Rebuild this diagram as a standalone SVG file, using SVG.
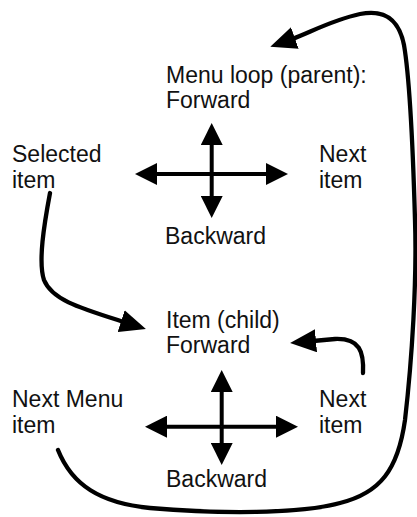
<svg xmlns="http://www.w3.org/2000/svg" width="417" height="517" viewBox="0 0 417 517">
  <style>
    .lbl { font-family: "Liberation Sans", Arial, Helvetica, sans-serif; font-size: 23px; fill: #111; }
    .ln { fill: none; stroke: #000; stroke-width: 4; }
    .cross { marker-end: url(#ah); }
    .curve { stroke-width: 4.3; stroke-linecap: round; marker-end: url(#ahc); }
  </style>
  <defs>
    <marker id="ah" viewBox="0 0 22 22" refX="3" refY="11" markerWidth="22" markerHeight="22" markerUnits="userSpaceOnUse" orient="auto">
      <path d="M0,0 L22,11 L0,22 Z" fill="#000"/>
    </marker>
    <marker id="ahc" viewBox="0 0 26 23" refX="3" refY="11.5" markerWidth="26" markerHeight="23" markerUnits="userSpaceOnUse" orient="auto">
      <path d="M0,0 L26,11.5 L0,23 Z" fill="#000"/>
    </marker>
  </defs>
  <rect width="417" height="517" fill="#fff"/>

  <g id="connectors">
    <!-- top cross -->
    <line class="ln cross" x1="211.7" y1="174" x2="211.7" y2="142"/>
    <line class="ln cross" x1="211.7" y1="174" x2="211.7" y2="199"/>
    <line class="ln cross" x1="211.7" y1="174" x2="154" y2="174"/>
    <line class="ln cross" x1="211.7" y1="174" x2="269" y2="174"/>
    <!-- bottom cross -->
    <line class="ln cross" x1="221.7" y1="426.7" x2="221.7" y2="389"/>
    <line class="ln cross" x1="221.7" y1="426.7" x2="221.7" y2="446"/>
    <line class="ln cross" x1="221.7" y1="426.7" x2="164" y2="426.7"/>
    <line class="ln cross" x1="221.7" y1="426.7" x2="279" y2="426.7"/>
    <!-- selected item -> item (child) -->
    <path class="ln curve" d="M50,193 C44,225 38,262 44,280 C52,300 80,308 124,322"/>
    <!-- next item -> item (child) -->
    <path class="ln curve" d="M363,373 C364,352 360,338 335,339 L313,341"/>
    <!-- next menu item -> menu loop -->
    <path class="ln curve" d="M58,450 C72,485 100,503 150,508 C220,514 300,514 340,503 C380,493 398,470 405,420 C412,360 417,280 415,220 C413,150 410,80 404,45 C398,15 380,10 360,14 C332,20 309,33 292,39"/>
  </g>

  <g id="menu-loop">
    <text class="lbl" x="166" y="83">Menu loop (parent):</text>
    <text class="lbl" x="166" y="108">Forward</text>
  </g>
  <g id="selected-item">
    <text class="lbl" x="12" y="162">Selected</text>
    <text class="lbl" x="12" y="188">item</text>
  </g>
  <g id="next-item-top">
    <text class="lbl" x="319" y="162">Next</text>
    <text class="lbl" x="319" y="188">item</text>
  </g>
  <g id="backward-top">
    <text class="lbl" x="165" y="244">Backward</text>
  </g>
  <g id="item-child">
    <text class="lbl" x="166" y="328">Item (child)</text>
    <text class="lbl" x="166" y="353">Forward</text>
  </g>
  <g id="next-menu-item">
    <text class="lbl" x="12" y="407">Next Menu</text>
    <text class="lbl" x="12" y="433">item</text>
  </g>
  <g id="next-item-bottom">
    <text class="lbl" x="319" y="407">Next</text>
    <text class="lbl" x="319" y="433">item</text>
  </g>
  <g id="backward-bottom">
    <text class="lbl" x="166" y="487">Backward</text>
  </g>
</svg>
